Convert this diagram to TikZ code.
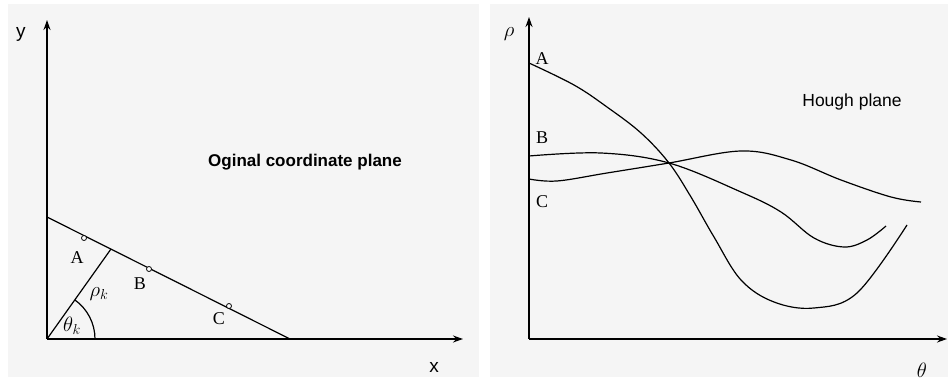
\documentclass[tikz,border=0pt]{standalone}
\usepackage{fontspec}
\setmainfont{Liberation Serif}
\setsansfont{Liberation Sans}
\usetikzlibrary{arrows.meta}
\tikzset{
  panel/.style={fill=black!4,draw=none},
  axis/.style={->,line width=1.4pt},
  curve/.style={line width=1.2pt},
  pt/.style={circle,draw,fill=white,line width=0.8pt,inner sep=0pt,minimum size=5pt},
  lbl/.style={font=\fontsize{18}{20}\selectfont},
  axlbl/.style={font=\sffamily\fontsize{19}{21}\selectfont},
  mlbl/.style={font=\fontsize{21}{24}\selectfont}
}
\begin{document}
\begin{tikzpicture}[x=1pt,y=1pt,>={Stealth[length=10pt,width=7pt]}]
\useasboundingbox[fill=white] (0,0) rectangle (948,383);
\fill[panel] (8,6) rectangle (479,379);
\fill[panel] (490,6) rectangle (948,379);

% original plane
\coordinate (O) at (47,44);
\coordinate (Ytip) at (47,363);
\coordinate (Xtip) at (463,44);
\coordinate (P) at (47,166);
\coordinate (Q) at (290,44);
\coordinate (F) at (111,134);

\draw[axis] (O)--(Ytip);
\draw[axis] (O)--(Xtip);
\draw[curve] (P)--(Q);
\draw[curve] (O)--(F);
\draw[curve] (95,44) arc[start angle=0,end angle=54.6,radius=48];

\node[pt] (pA) at (84,145) {};
\node[pt] (pB) at (149,114) {};
\node[pt] (pC) at (229,77) {};

\node[axlbl] (ylab) at (21,349) {y};
\node[axlbl] (xlab) at (434,16) {x};
\node[lbl] (lA) at (77,125) {A};
\node[lbl] (lB) at (140,99) {B};
\node[lbl] (lC) at (219,64) {C};
\node[mlbl] (rhok) at (99,89) {$\rho_k$};
\node[mlbl] (thk) at (72,57) {$\theta_k$};
\node[font=\sffamily\bfseries\fontsize{17}{20}\selectfont] (title1) at (305,221) {Oginal coordinate plane};

% Hough plane
\coordinate (O2) at (529,44);
\coordinate (Ytip2) at (529,366);
\coordinate (Xtip2) at (947,44);
\coordinate (X) at (669,220);

\draw[axis] (O2)--(Ytip2);
\draw[axis] (O2)--(Xtip2);

\draw[curve] plot[smooth,tension=0.6] coordinates {(529,320) (574,298) (607,276) (641,250) (X) (691,186) (714,146) (741,103) (774,81) (814,75) (857,90) (907,158)};
\draw[curve] plot[smooth,tension=0.6] coordinates {(529,227) (601,230) (X) (741,191) (781,171) (814,145) (844,136) (867,143) (886,157)};
\draw[curve] plot[smooth,tension=0.6] coordinates {(529,204) (557,202) (607,210) (X) (741,232) (791,223) (841,203) (891,186) (921,181)};

\node[mlbl] (rholab) at (509,349) {$\rho$};
\node[mlbl] (thlab) at (922,13) {$\theta$};
\node[lbl] (hA) at (542,324) {A};
\node[lbl] (hB) at (542,245) {B};
\node[lbl] (hC) at (542,181) {C};
\node[font=\sffamily\fontsize{17.5}{20}\selectfont] (title2) at (852,281) {Hough plane};
\end{tikzpicture}
\end{document}
